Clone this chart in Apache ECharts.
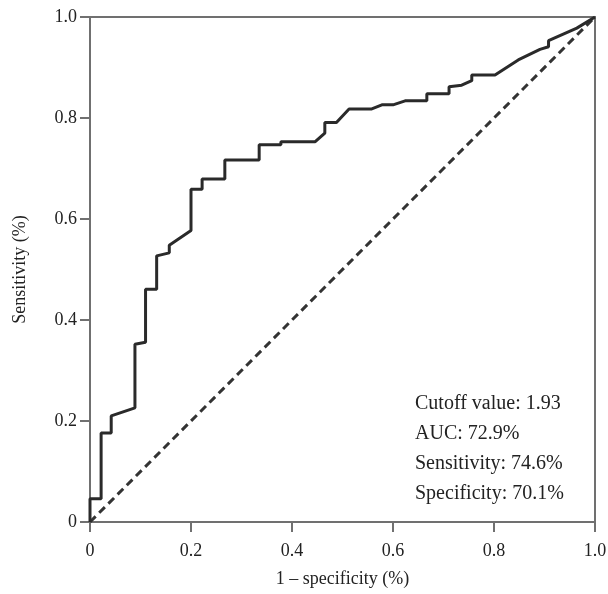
<!DOCTYPE html>
<html>
<head>
<meta charset="utf-8">
<script src="https://cdn.jsdelivr.net/npm/echarts@6/dist/echarts.min.js"></script>
<style>
  html, body { margin: 0; padding: 0; background: #fff; }
  #container { width: 608px; height: 594px; }
</style>
</head>
<body>
<div id="container"></div>
<script>
// ROC curve points
var fpr = [0, 0, 0.022, 0.022, 0.042, 0.042, 0.089, 0.089, 0.11, 0.11, 0.132, 0.132,
	0.157, 0.157, 0.2, 0.2, 0.222, 0.222, 0.267, 0.267, 0.335, 0.335, 0.378, 0.378,
	0.446, 0.465, 0.465, 0.488, 0.513, 0.558, 0.578, 0.6, 0.624, 0.667, 0.667, 0.711,
	0.711, 0.736, 0.756, 0.756, 0.802, 0.848, 0.891, 0.908, 0.908, 0.964, 1];
var tpr = [0, 0.046, 0.046, 0.176, 0.176, 0.21, 0.226, 0.352, 0.356, 0.461, 0.461, 0.527,
	0.533, 0.548, 0.577, 0.659, 0.659, 0.679, 0.679, 0.717, 0.717, 0.747, 0.747, 0.753,
	0.753, 0.77, 0.791, 0.791, 0.818, 0.818, 0.826, 0.826, 0.834, 0.834, 0.848, 0.848,
	0.862, 0.865, 0.874, 0.885, 0.885, 0.915, 0.936, 0.941, 0.953, 0.978, 1];
var refX = [0, 1];
var refY = [0, 1];
var notes = ['Cutoff value: 1.93', 'AUC: 72.9%', 'Sensitivity: 74.6%', 'Specificity: 70.1%'];

var myChart = echarts.init(document.getElementById('container'));
var serif = '"Liberation Serif", "DejaVu Serif", serif';

function tickLabel(v) {
	return v === 0 ? '0' : v.toFixed(1);
}

var axisCommon = {
	type: 'value',
	min: 0,
	max: 1,
	interval: 0.2,
	splitLine: { show: false },
	axisLine: { lineStyle: { color: '#707070', width: 2 } },
	axisTick: { length: 10, lineStyle: { color: '#707070', width: 2 } },
	axisLabel: { color: '#222', fontFamily: serif, fontSize: 18, formatter: tickLabel },
	nameTextStyle: { color: '#222', fontFamily: serif, fontSize: 18 },
	nameLocation: 'middle'
};

option = {
	animation: false,
	grid: {
		left: 90, right: 13, top: 17, bottom: 72,
		outerBoundsMode: 'none',
		show: true,
		borderColor: '#707070',
		borderWidth: 2
	},
	xAxis: Object.assign({}, axisCommon, {
		name: '1 \u2013 specificity (%)',
		nameGap: 48,
		axisLabel: Object.assign({}, axisCommon.axisLabel, { margin: 20 })
	}),
	yAxis: Object.assign({}, axisCommon, {
		name: 'Sensitivity (%)',
		nameGap: 61,
		axisLabel: Object.assign({}, axisCommon.axisLabel, { margin: 13 })
	}),
	graphic: [{
		type: 'text',
		left: 415,
		top: 389,
		style: {
			text: notes.join('\n'),
			font: '20px ' + serif,
			lineHeight: 30,
			fill: '#222'
		}
	}],
	series: [{
		type: 'line',
		symbol: 'none',
		data: refX.map(function (x, i) { return [x, refY[i]]; }),
		lineStyle: { color: '#333', width: 3, type: [8, 5] },
		z: 2
	}, {
		type: 'line',
		symbol: 'none',
		data: fpr.map(function (x, i) { return [x, tpr[i]]; }),
		lineStyle: { color: '#2a2a2a', width: 3 },
		z: 3
	}]
};

myChart.setOption(option);
</script>
</body>
</html>
